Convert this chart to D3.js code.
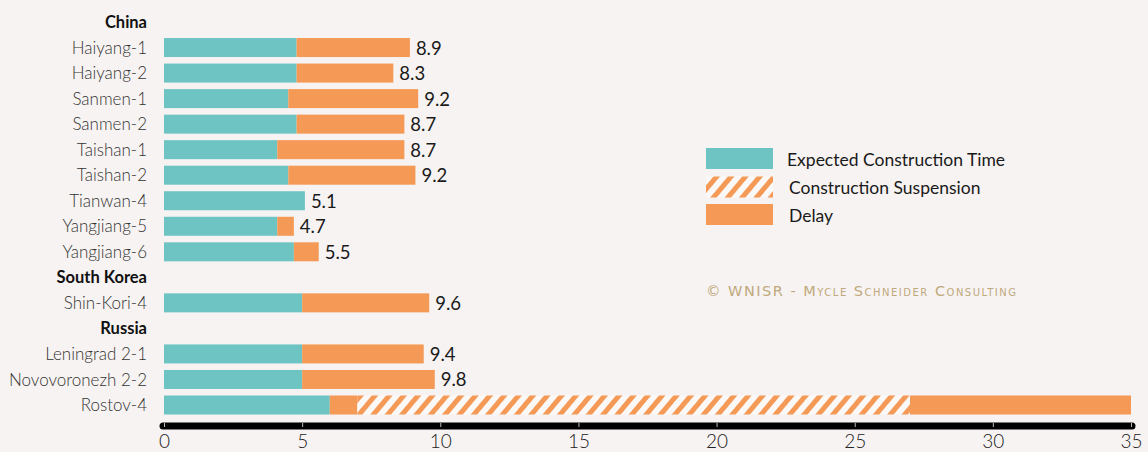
<!DOCTYPE html>
<html>
<head>
<meta charset="utf-8">
<script src="https://cdn.jsdelivr.net/npm/d3@7/dist/d3.min.js"></script>
<style>
  html, body { margin: 0; padding: 0; background: #f7f3f2; }
  svg { display: block; font-family: Lato, "Noto Sans", sans-serif; }
</style>
</head>
<body>
<svg id="chart" width="1148" height="452"></svg>
<script>
// rows in display order; headers are country names
const rows = ["China", "Haiyang-1", "Haiyang-2", "Sanmen-1", "Sanmen-2", "Taishan-1", "Taishan-2",
  "Tianwan-4", "Yangjiang-5", "Yangjiang-6", "South Korea", "Shin-Kori-4",
  "Russia", "Leningrad 2-1", "Novovoronezh 2-2", "Rostov-4"];
const headers = ["China", "South Korea", "Russia"];

const units      = ["Haiyang-1", "Haiyang-2", "Sanmen-1", "Sanmen-2", "Taishan-1", "Taishan-2",
  "Tianwan-4", "Yangjiang-5", "Yangjiang-6", "Shin-Kori-4", "Leningrad 2-1", "Novovoronezh 2-2", "Rostov-4"];
const expected   = [4.8, 4.8, 4.5, 4.8, 4.1, 4.5, 5.1, 4.1, 4.7, 5.0, 5.0, 5.0, 6.0];
const delay      = [4.1, 3.5, 4.7, 3.9, 4.6, 4.6, 0,   0.6, 0.9, 4.6, 4.4, 4.8, 1.0];
const suspension = [0,   0,   0,   0,   0,   0,   0,   0,   0,   0,   0,   0,   20.0];
const delayAfter = [0,   0,   0,   0,   0,   0,   0,   0,   0,   0,   0,   0,   8.0];
const totals     = ["8.9", "8.3", "9.2", "8.7", "8.7", "9.2", "5.1", "4.7", "5.5", "9.6", "9.4", "9.8", ""];

const xTicks = [0, 5, 10, 15, 20, 25, 30, 35];
const legendItems = ["Expected Construction Time", "Construction Suspension", "Delay"];

const teal = "#6ec4c3", orange = "#f49956";

const svg = d3.select("#chart");

// hatch pattern for suspension
const defs = svg.append("defs");
const pat = defs.append("pattern")
  .attr("id", "hatch").attr("patternUnits", "userSpaceOnUse")
  .attr("width", 11).attr("height", 11)
  .attr("patternTransform", "rotate(40)");
pat.append("rect").attr("width", 11).attr("height", 11).attr("fill", "#fbf9f8");
pat.append("rect").attr("x", 0).attr("width", 5).attr("height", 11).attr("fill", orange);

const x = d3.scaleLinear().domain([0, 35]).range([164, 1131]);
const y = d3.scalePoint().domain(rows).range([22, 405]);
const barH = 19;

// category labels
svg.append("g").selectAll("text").data(rows).join("text")
  .attr("x", 147)
  .attr("y", d => y(d))
  .attr("dy", "0.36em")
  .attr("text-anchor", "end")
  .style("font-size", d => headers.includes(d) ? "16.5px" : "17px")
  .style("font-weight", d => headers.includes(d) ? 700 : 300)
  .attr("fill", d => headers.includes(d) ? "#111" : "#333")
  .text(d => d);

// stacked segments
const segs = [];
units.forEach((u, i) => {
  let s = 0;
  [[expected[i], teal], [delay[i], orange], [suspension[i], "url(#hatch)"], [delayAfter[i], orange]]
    .forEach(([v, fill]) => {
      if (v > 0) segs.push({ unit: u, x0: s, x1: s + v, fill });
      s += v;
    });
});

svg.append("g").selectAll("rect").data(segs).join("rect")
  .attr("x", d => x(d.x0))
  .attr("width", d => x(d.x1) - x(d.x0))
  .attr("y", d => y(d.unit) - barH / 2)
  .attr("height", barH)
  .attr("fill", d => d.fill);

// value labels
svg.append("g").selectAll("text").data(units).join("text")
  .attr("x", (d, i) => x(expected[i] + delay[i] + suspension[i] + delayAfter[i]) + 6)
  .attr("y", d => y(d))
  .attr("dy", "0.38em")
  .style("font-size", "18.5px")
  .attr("fill", "#1a1a1a")
  .text((d, i) => totals[i]);

// axis
const axis = svg.append("g")
  .attr("transform", "translate(0,426)")
  .call(d3.axisBottom(x).tickValues(xTicks).tickSize(4).tickPadding(8).tickSizeOuter(0));
axis.select(".domain")
  .attr("d", `M${x(0) - 1},0H${x(35) + 1}`)
  .attr("stroke", "#000").attr("stroke-width", 7).attr("stroke-linecap", "round");
axis.selectAll(".tick line")
  .attr("y1", -3).attr("y2", 1)
  .attr("stroke", "#bbb").attr("stroke-width", 1);
axis.selectAll(".tick text")
  .style("font-size", "19px").style("font-family", "Lato, sans-serif")
  .style("font-weight", 300)
  .attr("fill", "#222").attr("y", 9);

// legend
const legend = svg.append("g");
const legendFill = [teal, "url(#hatch)", orange];
const legendY = [158.5, 187, 214.5];
legendItems.forEach((t, i) => {
  legend.append("rect")
    .attr("x", 706).attr("y", legendY[i] - 10.5)
    .attr("width", 67).attr("height", 21)
    .attr("fill", legendFill[i]);
  legend.append("text")
    .attr("x", i === 0 ? 787 : 789).attr("y", legendY[i] + 1)
    .attr("dy", "0.36em")
    .style("font-size", "17.5px")
    .attr("fill", "#1a1a1a")
    .text(t);
});

// copyright
svg.append("text")
  .attr("x", 706).attr("y", 291)
  .attr("dy", "0.35em")
  .style("font-size", "14.5px")
  .style("font-variant", "small-caps")
  .style("letter-spacing", "1.5px")
  .style("font-family", "'DejaVu Sans', sans-serif")
  .attr("fill", "#bfa97c")
  .text("© WNISR - Mycle Schneider Consulting");
</script>
</body>
</html>
